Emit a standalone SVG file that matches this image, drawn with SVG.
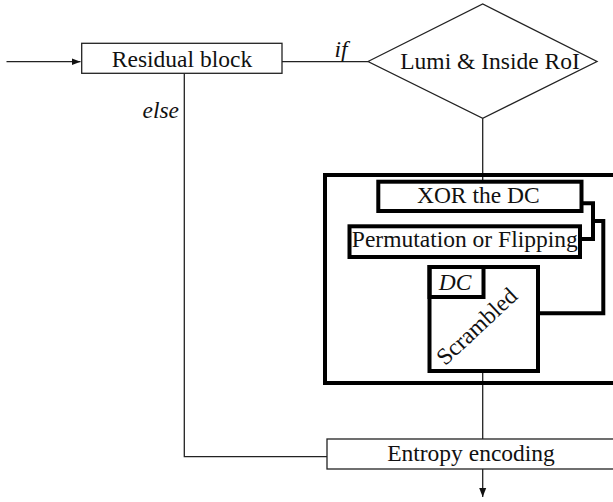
<svg xmlns="http://www.w3.org/2000/svg" width="613" height="502" viewBox="0 0 613 502">
<style>
text{font-family:"Liberation Serif","Times New Roman",serif;font-size:23.5px;fill:#111}
.it{font-style:italic}
.thin{fill:#fff;stroke:#222;stroke-width:1.3}
.thick{fill:none;stroke:#000;stroke-width:4}
.line{fill:none;stroke:#222;stroke-width:1.3}
</style>
<defs>
<marker id="ah" markerWidth="10" markerHeight="8" refX="9" refY="4" orient="auto" markerUnits="userSpaceOnUse">
<path d="M0,0.5 L9,4 L0,7.5 Z" fill="#111"/>
</marker>
</defs>
<rect width="613" height="502" fill="#fff"/>
<g id="connectors">
<path class="line" d="M6.5,61.7 H80.5" marker-end="url(#ah)"/>
<path class="line" d="M282,61.7 H368"/>
<path class="line" d="M482.7,118.3 V181"/>
<path class="line" d="M184.3,73.3 V456.7 H327"/>
<path class="line" d="M482.7,371 V439"/>
<path class="line" d="M482.7,469 V497" marker-end="url(#ah)"/>
<path class="thick" d="M582,203.3 H593 V239 H580"/>
<path class="thick" d="M593,221 H603.3 V313.3 H538"/>
<text class="it" x="341" y="57" text-anchor="middle">if</text>
<text class="it" x="179" y="118" text-anchor="end">else</text>
</g>
<g id="residual">
<rect class="thin" x="81.7" y="43.3" width="200.3" height="30"/>
<text x="182" y="66.7" text-anchor="middle">Residual block</text>
</g>
<g id="decision">
<polygon class="thin" points="368,61.5 482.7,4 597,61.5 482.7,118.3"/>
<text x="490" y="69.3" text-anchor="middle">Lumi &amp; Inside RoI</text>
</g>
<g id="scrambler">
<rect class="thick" x="325" y="175" width="300" height="208"/>
</g>
<g id="xor">
<rect class="thick" x="378.3" y="181.7" width="203.2" height="29.3" fill="#fff"/>
<text x="478.3" y="203.3" text-anchor="middle">XOR the DC</text>
</g>
<g id="permutation">
<rect class="thick" x="349.5" y="226.3" width="230.5" height="30.7"/>
<text x="464.8" y="247.3" text-anchor="middle">Permutation or Flipping</text>
</g>
<g id="dc-block">
<rect class="thick" x="429.5" y="267" width="108.5" height="104"/>
<rect class="thick" x="429.5" y="267" width="54" height="30"/>
<text class="it" x="455" y="290" text-anchor="middle">DC</text>
<text x="0" y="0" text-anchor="middle" transform="translate(482,332) rotate(-43)">Scrambled</text>
</g>
<g id="entropy">
<rect class="thin" x="327" y="439" width="300" height="30"/>
<text x="471" y="461" text-anchor="middle">Entropy encoding</text>
</g>
</svg>
